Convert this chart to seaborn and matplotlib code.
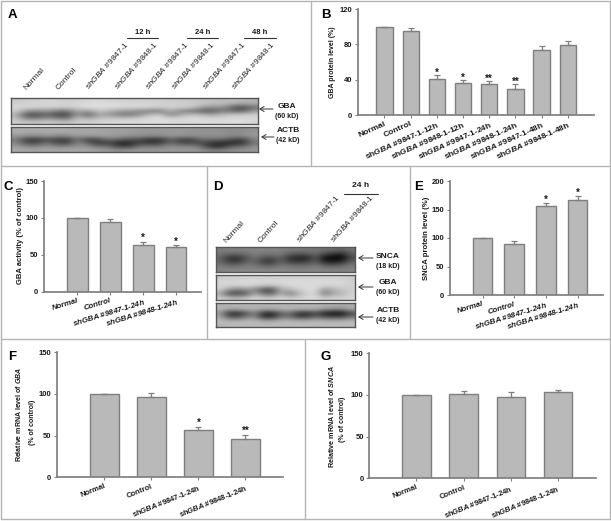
import numpy as np
import pandas as pd
import seaborn as sns
from matplotlib import pyplot as plt
from matplotlib.lines import Line2D

sns.set_theme(style="white")
plt.rcParams['font.family'] = ['Liberation Sans', 'DejaVu Sans']
plt.rcParams['mathtext.fontset'] = 'custom'
plt.rcParams['mathtext.rm'] = 'Liberation Sans:bold'
plt.rcParams['mathtext.it'] = 'Liberation Sans:italic:bold'
plt.rcParams['mathtext.cal'] = 'Liberation Sans:italic'
plt.rcParams['mathtext.default'] = 'rm'
plt.rcParams['xtick.bottom'] = True
plt.rcParams['ytick.left'] = True

W, H = 611, 521
GBA = r'sh$\mathit{GBA}$'
GBA_thin = r'sh$\mathcal{GBA}$'
# ---------------------------
labels_b = ['Normal', 'Control', GBA+' #9847-1-12h', GBA+' #9848-1-12h', GBA+' #9847-1-24h',
            GBA+' #9848-1-24h', GBA+' #9847-1-48h', GBA+' #9848-1-48h']
labels_4 = ['Normal', 'Control', GBA+' #9847-1-24h', GBA+' #9848-1-24h']

vals_b = [100, 95, 41, 36, 35, 30, 74, 79]
errs_b = [0, 3, 4, 4, 3, 5, 4, 5]
stars_b = ['', '', '*', '*', '**', '**', '', '']
vals_c = [100, 95, 63, 60]
errs_c = [0, 4, 5, 3]
stars_c = ['', '', '*', '*']
vals_e = [100, 89, 157, 166]
errs_e = [0, 5, 4, 7]
stars_e = ['', '', '*', '*']
vals_f = [100, 96, 57, 46]
errs_f = [0, 5, 3, 5]
stars_f = ['', '', '*', '**']
vals_g = [100, 101, 98, 103]
errs_g = [0, 4, 5, 3]
stars_g = ['', '', '', '']

# blots, grey levels (top row first)
blot_a_gba = [
    [185,188,190,192,190,188,190,192,195,192,190,188,190,188,188,186,184,182,180,178,176,176,176,170],
    [190,192,195,196,195,192,195,198,200,198,198,195,195,195,192,190,190,188,185,180,178,170,160,165],
    [195,195,192,190,190,188,195,200,202,200,198,196,198,195,190,190,190,188,160,140,150,110,90,120],
    [190,150,140,150,130,125,165,150,185,170,155,150,140,130,125,170,135,125,110,105,130,120,110,150],
    [170,100,95,115,90,90,155,105,160,150,130,125,145,175,190,130,165,180,175,160,175,185,185,190],
    [180,135,130,150,135,125,185,165,180,185,185,185,192,198,200,195,195,198,198,195,195,198,198,195],
    [190,185,185,188,185,180,190,190,195,195,198,198,198,200,200,198,198,198,200,198,198,200,200,195]]
blot_a_actb = [
    [165,165,165,165,165,165,160,160,160,158,155,155,150,150,150,150,150,148,145,145,145,140,140,145],
    [165,160,160,162,160,160,160,160,160,155,155,155,150,150,150,150,150,148,145,145,145,140,145,150],
    [150,145,140,150,140,140,155,150,155,155,150,145,145,140,140,150,145,145,145,145,145,140,140,150],
    [130,85,80,100,85,85,125,85,95,125,110,100,95,75,75,110,90,85,120,115,115,95,85,135],
    [140,100,95,125,95,90,140,110,80,90,65,65,90,80,85,120,95,95,95,75,70,70,75,125],
    [155,140,140,150,140,140,150,145,125,125,90,90,130,130,130,145,140,140,120,75,75,115,120,145],
    [165,160,160,160,160,160,160,160,155,150,145,150,150,150,150,150,150,150,145,135,135,145,145,150]]
blot_d_snca = [
    [130,135,135,135,135,135,135,135,130,130,128,125,125,120,115,125],
    [125,120,120,125,135,130,130,130,115,110,110,120,100,90,75,110],
    [115,80,75,100,125,100,100,115,75,65,65,105,50,40,40,95],
    [115,85,80,110,115,80,80,110,85,80,85,110,65,60,70,110],
    [130,120,120,130,125,115,115,130,125,120,120,130,115,110,115,130],
    [135,138,138,138,138,138,138,138,135,135,135,138,135,135,135,135]]
blot_d_gba = [
    [185,188,188,190,190,188,188,190,190,190,190,190,190,190,188,185],
    [195,195,195,198,198,198,198,198,198,198,198,198,198,198,198,190],
    [195,195,195,195,195,185,185,192,198,198,198,198,195,195,195,190],
    [190,150,130,150,135,95,95,165,170,190,198,198,150,170,180,190],
    [160,95,90,105,165,120,115,170,125,165,188,195,125,160,170,190],
    [190,180,175,185,195,190,190,195,190,192,198,198,190,192,192,195]]
blot_d_actb = [
    [170,170,170,170,170,170,170,170,170,170,170,170,170,170,165,165],
    [175,165,165,170,170,165,165,172,172,170,170,170,150,145,145,165],
    [150,75,70,100,135,70,70,110,120,75,70,95,60,50,50,90],
    [160,105,100,130,140,75,75,120,120,90,90,115,100,95,95,125],
    [178,170,170,175,175,165,165,175,175,170,170,175,170,170,170,175],
    [170,175,175,175,175,175,175,175,175,175,175,175,175,175,175,175]]

lanes_a = ['Normal', 'Control', GBA_thin+' #9847-1', GBA_thin+' #9848-1', GBA_thin+' #9847-1', GBA_thin+' #9848-1',
           GBA_thin+' #9847-1', GBA_thin+' #9848-1']
lanes_d = ['Normal', 'Control', GBA_thin+' #9847-1', GBA_thin+' #9848-1']
# ---------------------------
barcol = "#b9b9b9"
edgecol = "#7f7f7f"
axcol = "#808080"
txtcol = "#1a1a1a"

fh = plt.figure(figsize=(W/100, H/100), dpi=100, facecolor="white")


def pxtext(x, y, s, **kw):
    kw.setdefault('ha', 'center')
    kw.setdefault('va', 'center')
    kw.setdefault('color', txtcol)
    fh.text(x/W, 1-y/H, s, **kw)


def pxline(x0, y0, x1, y1, color="#b4b4b4", lw=1.0):
    fh.add_artist(Line2D([x0/W, x1/W], [1-y0/H, 1-y1/H], color=color, linewidth=lw))


def pxaxes(x0, ytop, x1, ybot):
    return fh.add_axes([x0/W, 1-ybot/H, (x1-x0)/W, (ybot-ytop)/H])


def barpanel(box, labels, vals, errs, stars, ymax, yticks, xlim, width, starpad, italic=False, xfs=6.0, rot=20):
    ah = pxaxes(*box)
    df = pd.DataFrame({'group': labels, 'value': vals})
    sns.barplot(data=df, x='group', y='value', color=barcol, saturation=1, width=width,
                edgecolor=edgecol, linewidth=1.0, errorbar=None, ax=ah)
    ah.errorbar(range(len(vals)), vals, yerr=[np.zeros(len(errs)), errs], fmt='none', ecolor=edgecol,
                elinewidth=0.9, capsize=2, capthick=0.9)
    for i in range(len(vals)):
        if stars[i] != '':
            ah.text(i, vals[i]+errs[i]+starpad, stars[i], ha='center', va='center', fontsize=7,
                    fontweight='bold', color=txtcol)
    ah.set_xlim(xlim)
    ah.set_ylim(0, ymax)
    ah.set_yticks(yticks)
    ah.set_yticklabels([str(t) for t in yticks], fontsize=5.5, fontweight='bold', color=txtcol)
    ah.set_xticks(range(len(labels)))
    ah.set_xticklabels(labels, fontsize=xfs, fontweight='bold', color=txtcol, rotation=rot, ha='right',
                       rotation_mode='anchor', style='italic' if italic else 'normal')
    ah.set_xlabel('')
    ah.set_ylabel('')
    ah.tick_params(axis='both', direction='out', length=2, width=0.8, color=axcol, pad=2)
    ah.spines['top'].set_visible(False)
    ah.spines['right'].set_visible(False)
    ah.spines['left'].set_color(axcol)
    ah.spines['bottom'].set_color(axcol)
    ah.patch.set_alpha(0)
    return ah


def blot(box, grid):
    ah = pxaxes(*box)
    ah.imshow(np.array(grid), cmap='gray', vmin=40, vmax=225, aspect='auto', interpolation='bicubic')
    ah.set_xticks([])
    ah.set_yticks([])
    for sp in ah.spines.values():
        sp.set_color("#555555")
        sp.set_linewidth(1.0)
    return ah


def arrow(x0, x1, y):
    fh.add_artist(plt.Annotation('', xy=(x0/W, 1-y/H), xytext=(x1/W, 1-y/H), xycoords='figure fraction',
                                 arrowprops=dict(arrowstyle='->,head_length=0.25,head_width=0.15', color="#333333",
                                                 lw=0.7, shrinkA=0, shrinkB=0)))


# frame lines of the panels
pxline(1, 1, 610, 1)
pxline(1, 1, 1, 519)
pxline(610, 1, 610, 519)
pxline(1, 519, 610, 519)
pxline(1, 166, 610, 166)
pxline(1, 339, 610, 339)
pxline(311, 1, 311, 166)
pxline(207, 166, 207, 339)
pxline(410, 166, 410, 339)
pxline(305, 339, 305, 519)

# bar panels
barpanel((358, 9, 594, 115), labels_b, vals_b, errs_b, stars_b, 120, [0, 40, 80, 120], (-1.01, 8.0), 0.62, 2.5, xfs=6.0, rot=24)
barpanel((44, 181, 201, 291.7), labels_4, vals_c, errs_c, stars_c, 150, [0, 50, 100, 150], (-1.01, 3.75), 0.62, 5, italic=True, xfs=5.7, rot=17)
barpanel((450, 181, 603, 295), labels_4, vals_e, errs_e, stars_e, 200, [0, 50, 100, 150, 200], (-1.03, 3.8), 0.62, 6, italic=True, xfs=5.7, rot=17)
barpanel((57, 352.3, 283, 477.3), labels_4, vals_f, errs_f, stars_f, 150, [0, 50, 100, 150], (-1.01, 3.8), 0.6, 5, xfs=5.5, rot=22)
barpanel((369.3, 353.3, 595.7, 478.3), labels_4, vals_g, errs_g, stars_g, 150, [0, 50, 100, 150], (-1.0, 3.8), 0.6, 5, xfs=5.5, rot=22)

# blots
blot((11, 98, 258, 124), blot_a_gba)
blot((11, 127, 258, 152), blot_a_actb)
blot((216, 247, 355, 272), blot_d_snca)
blot((216, 275, 355, 300), blot_d_gba)
blot((216, 303, 355, 327), blot_d_actb)

# lane labels
xa = [28, 60, 90, 119, 150, 176, 207, 236]
for x, s in zip(xa, lanes_a):
    pxtext(x, 91, s, fontsize=6, rotation=48, ha='left', va='bottom', rotation_mode='anchor', color="#222222")
xd = [228, 262, 301, 335]
for x, s in zip(xd, lanes_d):
    pxtext(x, 244, s, fontsize=6, rotation=48, ha='left', va='bottom', rotation_mode='anchor', color="#222222")

for x0, x1, s in [(127, 158, '12 h'), (187, 218, '24 h'), (244, 276, '48 h')]:
    pxline(x0, 38, x1, 38, color="#333333", lw=0.8)
    pxtext((x0+x1)/2, 32, s, fontsize=5.5, fontweight='bold')
pxline(344, 194, 378, 194, color="#333333", lw=0.8)
pxtext(361, 186, '24 h', fontsize=6, fontweight='bold')

# band names
for ax0, ax1, ya, name, kd, xt, yn, yk in [
        (259, 273, 109, 'GBA', '(60 kD)', 287, 106, 116),
        (261, 274, 137, 'ACTB', '(42 kD)', 288, 131, 141),
        (358, 373, 258, 'SNCA', '(18 kD)', 388, 256, 266),
        (358, 373, 287, 'GBA', '(60 kD)', 388, 283, 293),
        (358, 373, 317, 'ACTB', '(42 kD)', 388, 311, 321)]:
    arrow(ax0, ax1, ya)
    pxtext(xt, yn, name, fontsize=6, fontweight='bold')
    pxtext(xt, yk, kd, fontsize=5, fontweight='bold')

# y labels
pxtext(333, 62, 'GBA protein level (%)', fontsize=5, fontweight='bold', rotation=90)
pxtext(21, 236, 'GBA activity (% of control)', fontsize=5.5, fontweight='bold', rotation=90)
pxtext(427, 238, 'SNCA protein level (%)', fontsize=5.6, fontweight='bold', rotation=90)
pxtext(19, 414, r'Relative mRNA level of $\mathit{GBA}$', fontsize=5, fontweight='bold', rotation=90)
pxtext(32, 422, '(% of control)', fontsize=5, fontweight='bold', rotation=90)
pxtext(331, 416, r'Relative mRNA level of $\mathit{SNCA}$', fontsize=5.2, fontweight='bold', rotation=90)
pxtext(342, 419, '(% of control)', fontsize=5, fontweight='bold', rotation=90)

# panel letters
for x, y, s in [(12, 15, 'A'), (326, 15, 'B'), (8, 187, 'C'), (218, 187, 'D'), (419, 187, 'E'), (12, 357, 'F'), (326, 357, 'G')]:
    pxtext(x, y, s, fontsize=9.5, fontweight='bold', color='black')

fh.savefig("out.png", dpi=100)
